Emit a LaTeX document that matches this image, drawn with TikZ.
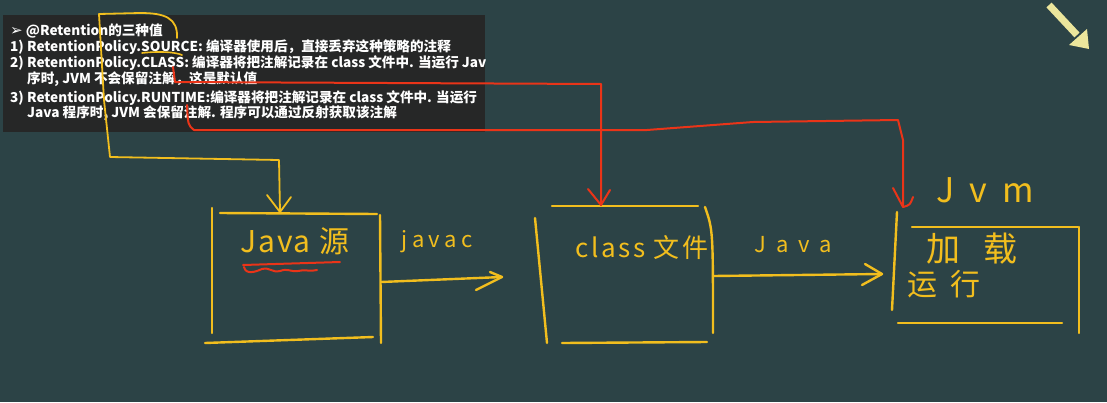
\documentclass[tikz,border=0pt]{standalone}
\usepackage{fontspec}
\setmainfont{Noto Sans CJK SC}
\newfontfamily\symfont{DejaVu Sans}
\usepackage{xcolor}
\usetikzlibrary{arrows.meta,calc}
\definecolor{board}{HTML}{2C4346}
\definecolor{panel}{HTML}{262727}
\definecolor{chalk}{HTML}{F2BE1E}
\definecolor{redpen}{HTML}{EA3418}
\definecolor{pointer}{HTML}{ECE69C}
% hand-written labels: size, letter spacing
\newcommand\hand[2]{\fontsize{#1}{#1}\selectfont\addfontfeature{LetterSpace=#2}}

\begin{document}
\begin{tikzpicture}[x=1pt,y=-1pt,
  yl/.style={chalk,line width=2.4pt,line cap=round,line join=round},
  rd/.style={redpen,line width=2pt,line cap=round,line join=round},
  ln/.style={anchor=west,text=white,inner sep=0pt,font=\fontsize{13.6}{15}\selectfont\bfseries},
  hw/.style={text=chalk,inner sep=0pt}]
 \useasboundingbox (0,0) rectangle (1107,402);
 \fill[board] (0,0) rectangle (1107,402);
 % slide text
 \fill[panel] (3,15) rectangle (485,132);
 \begin{scope}
  \clip (3,15) rectangle (485,132);
  \node[ln] (t0) at (10,31) {{\symfont\fontsize{15}{15}\selectfont ➢} @Retention的三种值};
  \node[ln] (t1) at (10,47) {1) RetentionPolicy.SOURCE: 编译器使用后，直接丢弃这种策略的注释};
  \node[ln] (t2) at (10,63) {2) RetentionPolicy.CLASS: 编译器将把注解记录在 class 文件中. 当运行 Jav};
  \node[ln] (t3) at (27,79) {序时, JVM 不会保留注解，这是默认值};
  \node[ln] (t4) at (10,98) {3) RetentionPolicy.RUNTIME:编译器将把注解记录在 class 文件中. 当运行};
  \node[ln] (t5) at (27,113) {Java 程序时, JVM 会保留注解. 程序可以通过反射获取该注解};
 \end{scope}
 % points the pen strokes start and end at
 \coordinate (src) at (177,38);
 \coordinate (clsp) at (173,67);
 \coordinate (runp) at (187,105);
 \coordinate (jtop) at (280,212);
 \coordinate (ctop) at (601,205);
 \coordinate (vtop) at (903,207);
 \coordinate (jout) at (381,282);
 \coordinate (cin) at (502,277);
 \coordinate (cout) at (713,276);
 \coordinate (vin) at (882,274);
 % java source box
 \draw[yl] (220,213) -- (377,214);
 \draw[yl] (212,208) -- (212,333);
 \draw[yl] (380,215) -- (381,343);
 \draw[yl] (205,343) -- (373,337);
 \node[hw,font=\hand{30}{6}] (jsrc) at (295,241) {Java 源};
 \draw[rd] (243,265) -- (340,262);
 \draw[rd] (244,267) .. controls (246,275) and (255,272) .. (262,269) .. controls (270,267) and (272,273) .. (280,271)
   .. controls (288,268) and (290,272) .. (298,271) .. controls (305,269) and (310,272) .. (317,270);
 % class file box
 \draw[yl] (552,206) -- (698,206);
 \draw[yl] (535,218) -- (547,343);
 \draw[yl] (705,207) .. controls (713,230) .. (713,333);
 \draw[yl] (562,343) -- (707,342);
 \node[hw,font=\hand{26}{10}] (cls) at (642,248) {class 文件};
 % jvm box
 \draw[yl] (897,212) -- (892,310);
 \draw[yl] (912,227) -- (1078,227);
 \draw[yl] (1079,227) -- (1079,333);
 \draw[yl] (898,323) -- (1062,323);
 \node[hw,font=\hand{34}{45}] (jvm) at (985,190) {Jvm};
 \node[hw,font=\hand{34}{70}] (load) at (972,249) {加载};
 \node[hw,font=\hand{30}{45}] (run) at (944,284) {运行};
 % javac / java arrows
 \draw[yl] (jout) -- (cin);
 \draw[yl] ($(cin)+(-12,-5)$) -- (cin) -- ($(cin)+(-26,13)$);
 \node[hw,font=\hand{22}{20}] (javac) at (437,242) {javac};
 \draw[yl] (cout) -- (vin);
 \draw[yl] ($(vin)+(-17,-10)$) -- (vin) -- ($(vin)+(-20,11)$);
 \node[hw,font=\hand{22}{45}] (java) at (793,245) {Java};
 % SOURCE -> source box
 \draw[yl,line width=1.6pt] (142,53) .. controls (160,51) and (175,52) .. (182,55);
 \draw[yl,line width=1.8pt] (src) .. controls (178,18) and (165,13) .. (140,13) -- (99,14) -- (104,100) -- (110,157) -- (279,160) -- (jtop);
 \draw[yl,line width=1.8pt] ($(jtop)+(-13,-17)$) -- (jtop) -- ($(jtop)+(11,-15)$);
 % CLASS -> class file, RUNTIME -> jvm
 \draw[rd] (clsp) -- (175,82) -- (601,84) -- (ctop);
 \draw[rd] ($(ctop)+(-13,-16)$) -- (ctop) -- ($(ctop)+(9,-15)$);
 \draw[rd] (runp) .. controls (188,125) .. (194,130) -- (647,130) .. controls (700,126) .. (753,122) -- (898,120) -- (903,140) -- (vtop);
 \draw[rd] ($(vtop)+(-10,-19)$) -- (vtop) .. controls (910,205) .. ($(vtop)+(10,-10)$);
 % pointer
 \draw[pointer,line width=7pt] (1049,5) -- (1077,35);
 \fill[pointer] (1069,45) -- (1089,49) -- (1087,29) -- cycle;
\end{tikzpicture}
\end{document}
